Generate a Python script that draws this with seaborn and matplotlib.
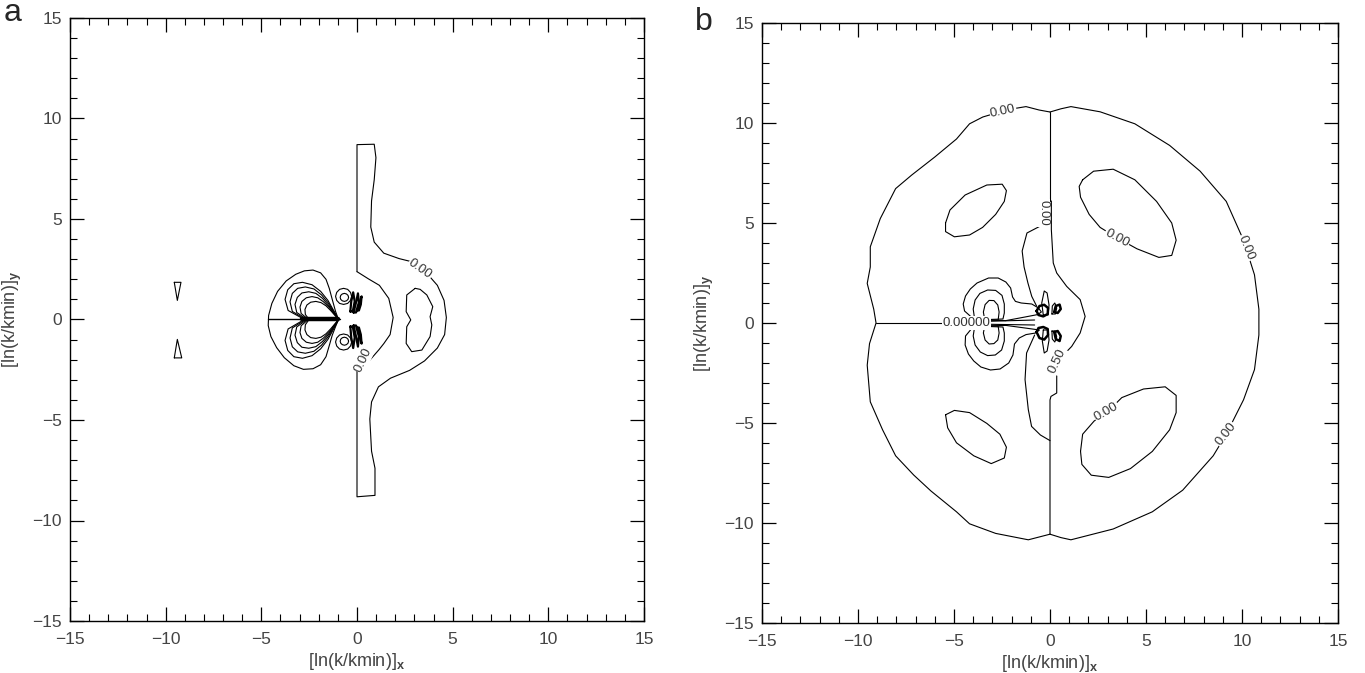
import matplotlib
matplotlib.use("Agg")
import matplotlib.pyplot as plt
from matplotlib.ticker import MultipleLocator
import seaborn as sns
import pandas as pd

# ---------------- data ----------------
AXIS_LIMITS = (-15, 15)
MAJOR_STEP = 5
MINOR_STEP = 1
AXIS_LABEL_X = r"[ln(k/kmin)]$_{\mathbf{x}}$"
AXIS_LABEL_Y = r"[ln(k/kmin)]$_{\mathbf{y}}$"
PANEL_NAMES = ["a", "b"]

# ---- panel a ----
A_OUTER = [(0, 2.38), (0, 8.7), (0.9, 8.72), (0.99, 8.05), (0.9, 6.95), (0.76, 5.9), (0.72, 4.6),
           (0.9, 3.85), (1.4, 3.3), (2.2, 3.03), (2.75, 2.9), (3.3, 2.5), (3.85, 2.08), (4.2, 1.7),
           (4.55, 0.95), (4.67, 0.1), (4.58, -0.75), (4.2, -1.42), (3.53, -2.06), (2.75, -2.53),
           (1.75, -2.92), (1.12, -3.35), (0.76, -4.1), (0.67, -4.95), (0.76, -6.55), (0.94, -7.4),
           (0.94, -8.75), (0, -8.82), (0, -2.5)]
A_INNER_ARC = [(0, 2.38), (0.6, 2.02), (1.17, 1.7), (1.66, 1.05), (1.89, 0.1), (1.73, -0.75),
               (1.4, -1.2), (1.15, -1.5), (0.6, -2.1)]
A_HEART = [(3.04, 1.55), (2.6, 1.22), (2.57, 0.39), (2.81, -0.02), (2.6, -0.36), (2.57, -1.19),
           (2.86, -1.6), (3.39, -1.52), (3.82, -0.85), (3.91, -0.27), (3.82, 0.14), (3.96, 0.64),
           (3.65, 1.22), (3.3, 1.5)]
A_TRI_UP = [(-9.55, 1.85), (-9.2, 1.85), (-9.39, 0.95)]
A_TRI_DN = [(-9.55, -1.91), (-9.16, -1.91), (-9.39, -0.99)]
A_LOBES_UP = [
    [(-2.55, 0.06), (-2.7, 0.25), (-2.72, 0.5), (-2.62, 0.72), (-2.42, 0.86), (-2.15, 0.9), (-1.88, 0.84), (-1.62, 0.68), (-1.38, 0.45), (-1.15, 0.2), (-0.98, 0.03)],
    [(-2.62, 0.06), (-2.92, 0.3), (-2.98, 0.62), (-2.88, 0.9), (-2.65, 1.08), (-2.35, 1.14), (-2.05, 1.08), (-1.75, 0.88), (-1.45, 0.6), (-1.18, 0.26), (-0.98, 0.03)],
    [(-2.7, 0.06), (-3.15, 0.35), (-3.24, 0.75), (-3.12, 1.1), (-2.88, 1.32), (-2.52, 1.38), (-2.15, 1.3), (-1.8, 1.05), (-1.48, 0.7), (-1.18, 0.3), (-0.98, 0.03)],
    [(-2.78, 0.06), (-3.38, 0.4), (-3.5, 0.88), (-3.38, 1.3), (-3.1, 1.55), (-2.7, 1.62), (-2.25, 1.52), (-1.85, 1.22), (-1.5, 0.82), (-1.18, 0.34), (-0.98, 0.03)],
    [(-2.86, 0.06), (-3.6, 0.45), (-3.76, 1.0), (-3.62, 1.48), (-3.3, 1.78), (-2.85, 1.85), (-2.35, 1.73), (-1.9, 1.4), (-1.52, 0.95), (-1.18, 0.38), (-0.98, 0.03)],
]
A_LOBES_DN = [
    [(-2.55, -0.06), (-2.7, -0.26), (-2.72, -0.52), (-2.62, -0.75), (-2.42, -0.9), (-2.15, -0.94), (-1.88, -0.88), (-1.62, -0.71), (-1.38, -0.47), (-1.15, -0.21), (-0.98, -0.03)],
    [(-2.62, -0.06), (-2.92, -0.31), (-2.98, -0.65), (-2.88, -0.94), (-2.65, -1.13), (-2.35, -1.19), (-2.05, -1.13), (-1.75, -0.92), (-1.45, -0.63), (-1.18, -0.27), (-0.98, -0.03)],
    [(-2.7, -0.06), (-3.15, -0.37), (-3.24, -0.78), (-3.12, -1.15), (-2.88, -1.38), (-2.52, -1.43), (-2.15, -1.35), (-1.8, -1.09), (-1.48, -0.73), (-1.18, -0.31), (-0.98, -0.03)],
    [(-2.78, -0.06), (-3.38, -0.42), (-3.5, -0.92), (-3.38, -1.36), (-3.1, -1.61), (-2.7, -1.68), (-2.25, -1.58), (-1.85, -1.27), (-1.5, -0.85), (-1.18, -0.35), (-0.98, -0.03)],
    [(-2.86, -0.06), (-3.6, -0.47), (-3.76, -1.04), (-3.62, -1.54), (-3.3, -1.85), (-2.85, -1.93), (-2.35, -1.8), (-1.9, -1.46), (-1.52, -0.99), (-1.18, -0.4), (-0.98, -0.03)],
]
A_LOBE_OUTER = [(-0.98, 0.03), (-1.12, 0.4), (-1.28, 0.95), (-1.45, 1.55), (-1.62, 2.0), (-1.9, 2.32),
                (-2.3, 2.46), (-2.75, 2.42), (-3.2, 2.25), (-3.7, 1.92), (-4.15, 1.4), (-4.45, 0.8),
                (-4.62, 0.2), (-4.64, -0.3), (-4.5, -0.85), (-4.2, -1.4), (-3.8, -1.9), (-3.3, -2.3),
                (-2.8, -2.48), (-2.3, -2.45), (-1.9, -2.25), (-1.62, -1.85), (-1.45, -1.3),
                (-1.3, -0.8), (-1.12, -0.35), (-0.98, -0.03)]
A_AXIS_LINE = [(-4.64, 0.0), (-0.9, 0.0)]
A_WEDGE = [(-2.9, 0.0), (-1.0, 0.0)]
A_RINGS = [
    [(-0.28, 1.15), (-0.34, 1.35), (-0.49, 1.5), (-0.7, 1.55), (-0.91, 1.5), (-1.06, 1.35), (-1.12, 1.15),
     (-1.06, 0.95), (-0.91, 0.8), (-0.7, 0.75), (-0.49, 0.8), (-0.34, 0.95)],
    [(-0.44, 1.1), (-0.47, 1.2), (-0.55, 1.27), (-0.66, 1.3), (-0.77, 1.27), (-0.85, 1.2), (-0.88, 1.1),
     (-0.85, 1.0), (-0.77, 0.93), (-0.66, 0.9), (-0.55, 0.93), (-0.47, 1.0)],
    [(-0.28, -1.12), (-0.34, -0.92), (-0.49, -0.77), (-0.7, -0.72), (-0.91, -0.77), (-1.06, -0.92), (-1.12, -1.12),
     (-1.06, -1.32), (-0.91, -1.47), (-0.7, -1.52), (-0.49, -1.47), (-0.34, -1.32)],
    [(-0.44, -1.08), (-0.47, -0.98), (-0.55, -0.91), (-0.66, -0.88), (-0.77, -0.91), (-0.85, -0.98), (-0.88, -1.08),
     (-0.85, -1.18), (-0.77, -1.25), (-0.66, -1.28), (-0.55, -1.25), (-0.47, -1.18)],
]
A_PETALS = [
    [(-0.35, 0.4), (-0.3, 0.9), (-0.2, 1.35), (-0.12, 0.9), (-0.22, 0.4)],
    [(-0.18, 0.35), (-0.05, 0.85), (0.05, 1.3), (0.1, 0.85), (-0.05, 0.35)],
    [(0.0, 0.45), (0.12, 0.8), (0.24, 1.15), (0.2, 0.75), (0.1, 0.45)],
    [(-0.35, -0.35), (-0.3, -0.9), (-0.2, -1.42), (-0.12, -0.9), (-0.22, -0.35)],
    [(-0.18, -0.3), (-0.05, -0.85), (0.05, -1.35), (0.1, -0.85), (-0.05, -0.3)],
    [(0.0, -0.4), (0.12, -0.8), (0.24, -1.2), (0.2, -0.75), (0.1, -0.4)],
]
A_LABELS = [("0.00", 3.3, 2.5, -35), ("0.00", 0.35, -2.0, 65)]

# ---- panel b ----
B_LEFT_HALF = [(0, 10.55), (-0.57, 10.65), (-1.25, 10.82), (-2.0, 10.7), (-2.8, 10.5), (-3.5, 10.3),
               (-4.19, 9.96), (-4.87, 9.2), (-6.0, 8.3), (-7.2, 7.4), (-8.04, 6.72), (-8.84, 5.22),
               (-9.36, 3.81), (-9.36, 2.8), (-9.52, 1.98), (-9.18, 0.69), (-9.06, 0.0), (-9.4, -1.03),
               (-9.52, -2.11), (-9.36, -3.94), (-8.72, -5.34), (-8.04, -6.64), (-7.1, -7.6),
               (-6.2, -8.4), (-4.87, -9.44), (-4.19, -10.04), (-2.83, -10.52), (-1.13, -10.84), (0, -10.56)]
B_RIGHT_HALF = [(0, 10.55), (0.57, 10.71), (1.09, 10.82), (2.61, 10.56), (4.42, 9.96), (6.23, 8.88),
                (7.82, 7.59), (9.18, 6.08), (10.08, 4.14), (10.65, 2.41), (10.88, 0.69), (10.88, -0.6),
                (10.65, -2.33), (10.08, -3.84), (9.18, -5.56), (8.5, -6.64), (6.91, -8.36),
                (5.33, -9.44), (3.29, -10.3), (1.09, -10.84), (0.57, -10.73), (0, -10.56)]
B_VLINE_TOP = [(0, 10.55), (0, 6.1)]
B_RIGHT_INNER = [(0.07, 6.1), (0.07, 4.67), (0.17, 3.0), (0.35, 2.5), (0.87, 1.83), (1.57, 1.17),
                 (1.83, 0.33), (1.57, -0.5), (1.13, -1.17), (0.7, -1.6), (0.45, -2.2), (0.35, -2.67),
                 (0.35, -3.5), (0.05, -3.67), (0, -3.85), (0, -10.56)]
B_LEFT_WIGGLE_UP = [(-0.3, 4.95), (-0.6, 4.8), (-1.2, 4.5), (-1.45, 3.6), (-1.35, 2.8), (-1.15, 2.0),
                    (-0.95, 1.33), (-0.7, 0.85)]
B_LEFT_WIGGLE_DN = [(-0.8, -0.6), (-1.22, -1.5), (-1.3, -2.83), (-1.13, -4.33), (-0.96, -5.17),
                    (-0.5, -5.6), (0, -5.88)]
B_HLINE = [(-9.06, 0.0), (-5.3, 0.0)]
B_OVALS = [
    [(-5.44, 5.0), (-5.21, 5.65), (-4.42, 6.4), (-3.29, 6.9), (-2.49, 6.94), (-2.27, 6.62), (-2.38, 6.08),
     (-2.83, 5.43), (-3.51, 4.78), (-4.19, 4.4), (-4.98, 4.31), (-5.44, 4.57)],
    [(-5.44, -4.59), (-4.98, -4.37), (-4.19, -4.48), (-3.29, -5.02), (-2.61, -5.56), (-2.27, -6.21),
     (-2.38, -6.75), (-3.06, -7.03), (-3.97, -6.64), (-4.87, -5.99), (-5.33, -5.24)],
    [(1.7, 7.16), (2.27, 7.59), (3.29, 7.69), (4.42, 7.16), (5.55, 6.08), (6.34, 5.0), (6.57, 4.14),
     (6.34, 3.38), (5.67, 3.28), (4.53, 3.71), (3.51, 4.25), (2.61, 4.78), (2.04, 5.43), (1.59, 6.29),
     (1.52, 6.83)],
    [(1.59, -6.42), (1.7, -5.56), (2.3, -4.9), (2.95, -4.48), (3.74, -3.73), (4.87, -3.3), (6.0, -3.19),
     (6.57, -3.62), (6.57, -4.48), (6.23, -5.34), (5.33, -6.42), (4.19, -7.28), (3.06, -7.72),
     (2.15, -7.61), (1.66, -7.07)],
]
B_CLUSTER = [
    [(-2.3, 0.12), (-3.5, 0.15), (-4.1, 0.3), (-4.45, 0.6), (-4.52, 0.95), (-4.4, 1.35), (-4.15, 1.7),
     (-3.8, 2.0), (-3.2, 2.25), (-2.7, 2.25), (-2.3, 2.05), (-2.05, 1.75), (-1.95, 1.3), (-1.8, 1.08),
     (-1.5, 1.0), (-0.95, 0.95), (-0.6, 0.75), (-0.45, 0.55), (-0.65, 0.42), (-1.3, 0.3), (-2.3, 0.12)],
    [(-2.3, -0.12), (-3.5, -0.15), (-4.1, -0.3), (-4.4, -0.65), (-4.42, -1.1), (-4.25, -1.55), (-3.97, -1.9),
     (-3.6, -2.2), (-3.1, -2.35), (-2.6, -2.3), (-2.15, -2.0), (-1.93, -1.6), (-1.85, -1.05), (-1.6, -0.75),
     (-1.25, -0.58), (-0.75, -0.5), (-0.55, -0.35), (-1.3, -0.25), (-2.3, -0.12)],
    [(-3.92, 0.15), (-4.0, 0.7), (-3.9, 1.15), (-3.65, 1.48), (-3.25, 1.65), (-2.83, 1.63), (-2.5, 1.38),
     (-2.38, 0.95), (-2.38, 0.5), (-2.45, 0.2), (-3.92, 0.15)],
    [(-3.92, -0.15), (-4.0, -0.65), (-3.9, -1.1), (-3.63, -1.45), (-3.25, -1.63), (-2.85, -1.6), (-2.52, -1.35),
     (-2.38, -0.9), (-2.38, -0.5), (-2.45, -0.2), (-3.92, -0.15)],
    [(-3.4, 0.15), (-3.47, 0.55), (-3.38, 0.92), (-3.17, 1.13), (-2.92, 1.12), (-2.72, 0.9), (-2.65, 0.55),
     (-2.7, 0.15), (-3.4, 0.15)],
    [(-3.4, -0.15), (-3.47, -0.5), (-3.38, -0.85), (-3.17, -1.05), (-2.92, -1.03), (-2.72, -0.85), (-2.65, -0.5),
     (-2.7, -0.15), (-3.4, -0.15)],
    [(-3.4, 0.08), (-0.8, 0.15)],
    [(-3.4, -0.06), (-0.8, -0.1)],
]
B_PETALS_THIN = [
    [(-0.35, 0.4), (-0.43, 1.0), (-0.3, 1.6), (-0.15, 1.5), (-0.05, 0.9), (-0.1, 0.4)],
    [(0.1, 0.45), (0.12, 0.85), (0.25, 1.0), (0.35, 0.75), (0.28, 0.45)],
    [(-0.35, -0.35), (-0.4, -0.9), (-0.3, -1.5), (-0.15, -1.4), (-0.05, -0.85), (-0.1, -0.35)],
    [(0.1, -0.4), (0.12, -0.8), (0.25, -0.95), (0.35, -0.7), (0.28, -0.4)],
]
B_PETALS_DARK = [
    [(-0.7, 0.6), (-0.55, 0.85), (-0.3, 0.91), (-0.1, 0.75), (-0.12, 0.45), (-0.35, 0.33), (-0.6, 0.4)],
    [(0.22, 0.55), (0.3, 0.85), (0.5, 0.92), (0.56, 0.7), (0.4, 0.5)],
    [(-0.7, -0.45), (-0.55, -0.75), (-0.3, -0.83), (-0.1, -0.6), (-0.12, -0.3), (-0.35, -0.2), (-0.6, -0.25)],
    [(0.22, -0.45), (0.3, -0.8), (0.5, -0.9), (0.56, -0.65), (0.4, -0.4)],
]
B_LABELS = [("0.00", -2.45, 10.6, 12), ("0.00", -0.33, 5.5, -90), ("0.00", 3.5, 4.25, -28),
            ("0.00", 10.2, 3.75, -68), ("0.00", 2.95, -4.45, 30), ("0.00", 9.15, -5.55, 52),
            ("0.50", 0.4, -1.9, 65), ("0.00000", -4.35, 0.0, 0)]

# ---------------- drawing ----------------
sns.set_style("ticks")
plt.rcParams["font.family"] = ["Liberation Sans", "DejaVu Sans"]
plt.rcParams["mathtext.fontset"] = "custom"
plt.rcParams["mathtext.rm"] = "Liberation Sans"
plt.rcParams["mathtext.bf"] = "Liberation Sans:bold"

fig = plt.figure(figsize=(13.65, 6.73), dpi=100)
ax_a = fig.add_axes([70 / 1365, (673 - 621) / 673, 574 / 1365, 603 / 673])
ax_b = fig.add_axes([762 / 1365, (673 - 623) / 673, 576 / 1365, 600 / 673])


def draw(ax, pts, lw=0.8, closed=False):
    xs = [p[0] for p in pts]
    ys = [p[1] for p in pts]
    if closed:
        xs = xs + [xs[0]]
        ys = ys + [ys[0]]
    df = pd.DataFrame({"x": xs, "y": ys})
    sns.lineplot(data=df, x="x", y="y", sort=False, estimator=None,
                 color="black", linewidth=lw, ax=ax)


def label(ax, txt, x, y, rot, size=9.5):
    ax.text(x, y, txt, rotation=rot, ha="center", va="center", fontsize=size,
            color="#333333", rotation_mode="anchor",
            bbox=dict(boxstyle="square,pad=0.05", fc="white", ec="none"), zorder=5)


# panel a
draw(ax_a, A_OUTER)
draw(ax_a, A_INNER_ARC)
draw(ax_a, A_HEART, closed=True)
draw(ax_a, A_TRI_UP, closed=True)
draw(ax_a, A_TRI_DN, closed=True)
for lobe in A_LOBES_UP + A_LOBES_DN:
    draw(ax_a, lobe, lw=0.8)
draw(ax_a, A_LOBE_OUTER)
draw(ax_a, A_AXIS_LINE, lw=1.0)
draw(ax_a, A_WEDGE, lw=3.2)
for ring in A_RINGS:
    draw(ax_a, ring, closed=True)
for petal in A_PETALS:
    draw(ax_a, petal, lw=1.6, closed=True)
for t, x, y, r in A_LABELS:
    label(ax_a, t, x, y, r)

# panel b
draw(ax_b, B_LEFT_HALF)
draw(ax_b, B_RIGHT_HALF)
draw(ax_b, B_VLINE_TOP)
draw(ax_b, B_RIGHT_INNER)
draw(ax_b, B_LEFT_WIGGLE_UP)
draw(ax_b, B_LEFT_WIGGLE_DN)
draw(ax_b, B_HLINE)
for ov in B_OVALS:
    draw(ax_b, ov, closed=True)
for c in B_CLUSTER:
    draw(ax_b, c)
for p in B_PETALS_THIN:
    draw(ax_b, p, closed=True)
for p in B_PETALS_DARK:
    draw(ax_b, p, lw=1.8, closed=True)
for t, x, y, r in B_LABELS:
    label(ax_b, t, x, y, r)

for ax in [ax_a, ax_b]:
    ax.set_xlim(*AXIS_LIMITS)
    ax.set_ylim(*AXIS_LIMITS)
    ax.xaxis.set_major_locator(MultipleLocator(MAJOR_STEP))
    ax.yaxis.set_major_locator(MultipleLocator(MAJOR_STEP))
    ax.xaxis.set_minor_locator(MultipleLocator(MINOR_STEP))
    ax.yaxis.set_minor_locator(MultipleLocator(MINOR_STEP))
    ax.tick_params(which="both", direction="in", top=True, right=True, colors="black",
                   labelcolor="#444444", labelsize=12.5)
    ax.tick_params(which="major", length=10, width=0.9)
    ax.tick_params(which="minor", length=5, width=0.8)
    ax.tick_params(axis="x", which="major", pad=8)
    ax.tick_params(axis="y", which="major", pad=6)
    for s in ax.spines.values():
        s.set_visible(True)
        s.set_linewidth(1.0)
        s.set_color("black")
    ax.set_xlabel(AXIS_LABEL_X, fontsize=13, color="#444444")
    ax.set_ylabel(AXIS_LABEL_Y, fontsize=13, color="#444444")
    ax.xaxis.set_label_coords(0.5, -0.050)
    ax.yaxis.set_label_coords(-0.080, 0.5)

fig.text(4 / 1365, 1 - 21 / 673, PANEL_NAMES[0], fontsize=23, va="baseline", ha="left")
fig.text(695 / 1365, 1 - 30 / 673, PANEL_NAMES[1], fontsize=23, va="baseline", ha="left")

fig.savefig("out.png", dpi=100)
